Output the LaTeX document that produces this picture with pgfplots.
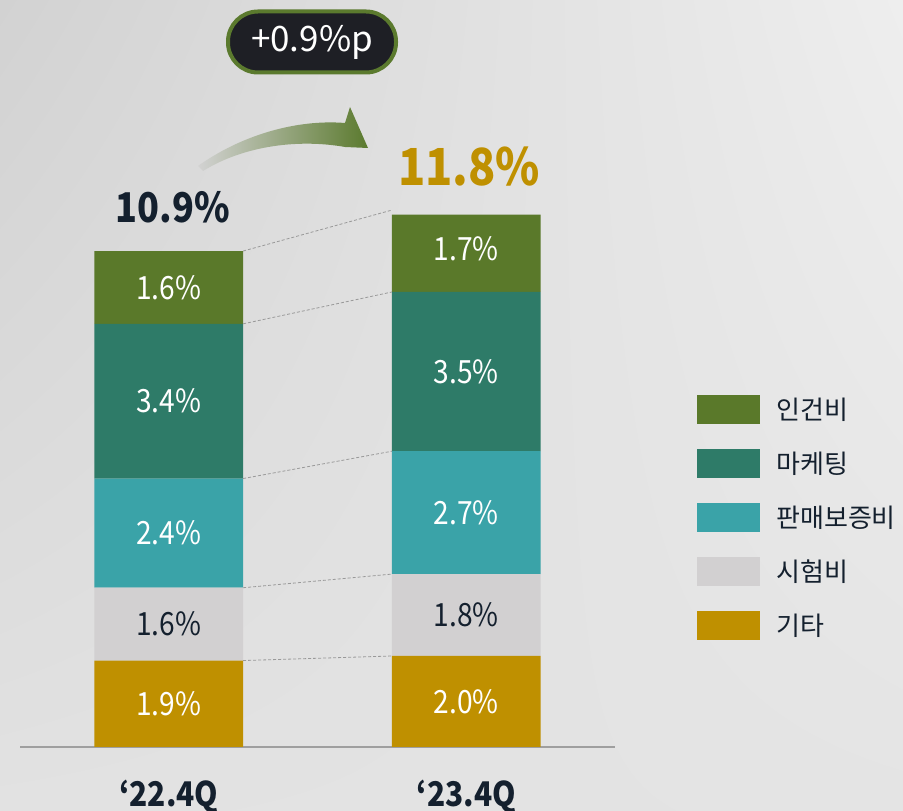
\documentclass[border=0pt]{standalone}
\usepackage{pgfplots}
\pgfplotsset{compat=1.18}
\usetikzlibrary{shadings}
\usepackage{fontspec}
\setmainfont{Noto Sans CJK KR}
\newfontfamily\cond[FakeStretch=0.88]{Noto Sans CJK KR}
\definecolor{cInj}{HTML}{5A792A}
\definecolor{cMkt}{HTML}{2E7B68}
\definecolor{cWar}{HTML}{3AA3A8}
\definecolor{cTest}{HTML}{D2D0D1}
\definecolor{cEtc}{HTML}{BF9000}
\definecolor{navy}{HTML}{14202E}
\definecolor{badge}{HTML}{1E1F25}
\definecolor{arrowG}{HTML}{5B7A2E}
\definecolor{bgA}{RGB}{210,210,210}
\definecolor{bgB}{RGB}{238,238,238}
\definecolor{bgC}{RGB}{226,226,226}
\definecolor{bgD}{RGB}{228,228,228}
\pgfplotsset{
  base/.style={at={(20pt,64pt)}, anchor=south west, scale only axis,
    width=595pt, height=637pt, xmin=-0.5, xmax=1.5, ymin=0, ymax=14, clip=false},
  leg/.style={legend image code/.code={\fill[##1] (0pt,-14.5pt) rectangle (63pt,14.5pt);}},
}
\begin{document}
\begin{tikzpicture}
\shade[upper left=bgA, upper right=bgB, lower left=bgC, lower right=bgD] (0,0) rectangle (903pt,811pt);
\useasboundingbox (0,0) rectangle (903pt,811pt);
\begin{axis}[base, ybar stacked, bar width=0.5,
  axis x line*=bottom, axis y line=none,
  axis line style={color=gray!75, line width=1.6pt},
  xtick={0,1}, xticklabels={‘22.4Q,‘23.4Q}, major tick length=0pt,
  xticklabel style={font=\cond\bfseries\fontsize{34}{34}\selectfont, text=navy, anchor=center, yshift=-50pt},
  leg, reverse legend, legend cell align=left,
  legend style={at={(1.138,0.553)}, anchor=north west, draw=none, fill=none,
    inner sep=0pt, row sep=25pt, column sep=16pt,
    font=\fontsize{26}{26}\selectfont, text=navy, nodes={inner sep=0pt}},
]
\addplot[fill=cEtc, draw=none, leg] coordinates {(0,1.9) (1,2.0)};
\addlegendentry{기타}
\addplot[fill=cTest, draw=none, leg] coordinates {(0,1.6) (1,1.8)};
\addlegendentry{시험비}
\addplot[fill=cWar, draw=none, leg] coordinates {(0,2.4) (1,2.7)};
\addlegendentry{판매보증비}
\addplot[fill=cMkt, draw=none, leg] coordinates {(0,3.4) (1,3.5)};
\addlegendentry{마케팅}
\addplot[fill=cInj, draw=none, leg] coordinates {(0,1.6) (1,1.7)};
\addlegendentry{인건비}
\end{axis}
\begin{axis}[base, hide axis]
\addplot[gray!80, line width=0.8pt, dash pattern=on 3pt off 2pt] coordinates {(0.25,1.9) (0.75,2.0)};
\addplot[gray!80, line width=0.8pt, dash pattern=on 3pt off 2pt] coordinates {(0.25,3.5) (0.75,3.8)};
\addplot[gray!80, line width=0.8pt, dash pattern=on 3pt off 2pt] coordinates {(0.25,5.9) (0.75,6.5)};
\addplot[gray!80, line width=0.8pt, dash pattern=on 3pt off 2pt] coordinates {(0.25,9.3) (0.75,10.0)};
\addplot[gray!80, line width=0.8pt, dash pattern=on 3pt off 2pt] coordinates {(0.25,10.9) (0.75,11.8)};
\end{axis}
\begin{axis}[base, hide axis, /pgf/number format/assume math mode=true]
\addplot[only marks, mark=none, point meta=explicit,
  nodes near coords={\pgfmathprintnumber[fixed,fixed zerofill,precision=1]{\pgfplotspointmeta}\%},
  nodes near coords style={anchor=center, text=white, font=\cond\fontsize{32}{32}\selectfont}]
  table[meta=v] {
x y v
0 0.95 1.9
0 4.7 2.4
0 7.6 3.4
0 10.1 1.6
1 1.0 2.0
1 5.15 2.7
1 8.25 3.5
1 10.95 1.7
};
\addplot[only marks, mark=none, point meta=explicit,
  nodes near coords={\pgfmathprintnumber[fixed,fixed zerofill,precision=1]{\pgfplotspointmeta}\%},
  nodes near coords style={anchor=center, text=navy, font=\cond\fontsize{32}{32}\selectfont}]
  table[meta=v] {
x y v
0 2.7 1.6
1 2.9 1.8
};
\node[font=\cond\bfseries\fontsize{41}{41}\selectfont, text=navy] at (axis cs:0.013,11.87) {10.9\%};
\node[font=\cond\bfseries\fontsize{51}{51}\selectfont, text=cEtc] at (axis cs:1.01,12.75) {11.8\%};
\end{axis}
% arrow
\shade[left color=gray!35, right color=arrowG]
  (198pt,645pt) .. controls (240pt,675pt) and (295pt,692pt) .. (345pt,688pt)
  -- (350pt,704pt) -- (368pt,663pt) -- (345pt,664pt)
  .. controls (300pt,672pt) and (245pt,666pt) .. (203pt,640pt) -- cycle;
% badge
\node[fill=badge, draw=arrowG, line width=4pt, rounded corners=30pt,
  minimum width=168pt, minimum height=61pt, text=white,
  font=\fontsize{35}{35}\selectfont] at (312pt,769pt) {+0.9\%p};
\end{tikzpicture}
\end{document}
